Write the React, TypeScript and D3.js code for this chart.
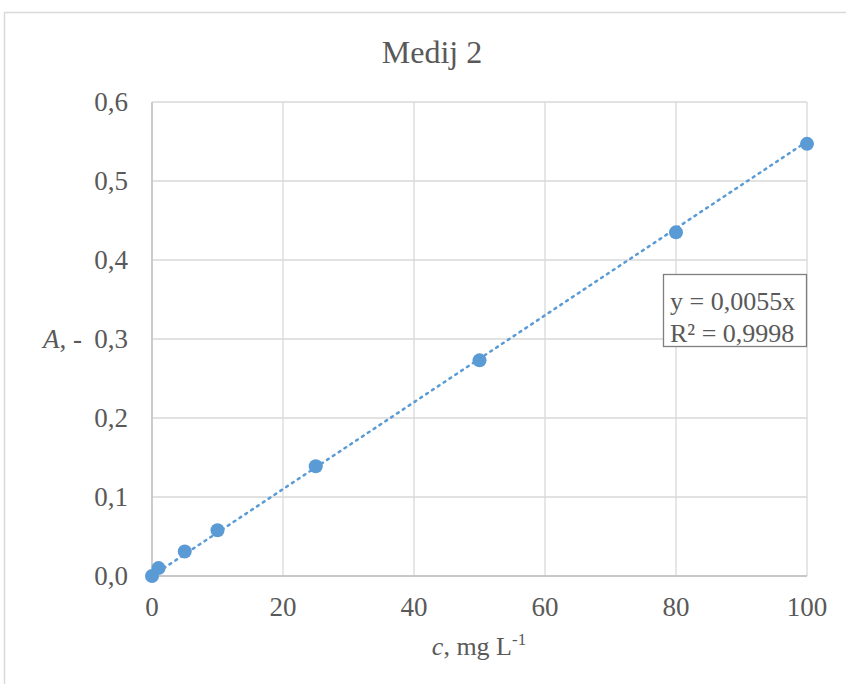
import React from "react";
import * as d3 from "d3";

const xValues = [0, 1, 5, 10, 25, 50, 80, 100];
const yValues = [0.0, 0.01, 0.031, 0.058, 0.139, 0.273, 0.435, 0.547];
const xTicks = [0, 20, 40, 60, 80, 100];
const yTicks = [0, 0.1, 0.2, 0.3, 0.4, 0.5, 0.6];
const slope = 0.0055;
const title = "Medij 2";
const eqLines = ["y = 0,0055x", "R² = 0,9998"];

const W = 846;
const H = 684;
const FONT = "'Liberation Serif', 'Times New Roman', serif";
const TXT = "#595959";
const BLUE = "#5B9BD5";

export default function App() {
  const x = d3.scaleLinear().domain([0, 100]).range([152, 807]);
  const y = d3.scaleLinear().domain([0, 0.6]).range([576, 102]);
  const fmt = (v: number) => v.toFixed(1).replace(".", ",");
  const line = d3
    .line<number>()
    .x((d) => x(d))
    .y((d) => y(d * slope));
  return (
    <svg
      width={W}
      height={H}
      style={{ position: "absolute", left: 0, top: 0, background: "#fff" }}
      fontFamily={FONT}
    >
      <rect x={4.5} y={12.5} width={W + 10} height={H + 10} fill="#fff" stroke="#d9d9d9" strokeWidth={1.5} />
      <text x={432} y={63} textAnchor="middle" fontSize={32} fill={TXT}>
        {title}
      </text>
      {yTicks.map((t) => (
        <line key={"gy" + t} x1={x(0)} x2={x(100)} y1={y(t)} y2={y(t)} stroke="#d9d9d9" strokeWidth={1.3} />
      ))}
      {xTicks.map((t) => (
        <line key={"gx" + t} x1={x(t)} x2={x(t)} y1={y(0)} y2={y(0.6)} stroke="#d9d9d9" strokeWidth={1.3} />
      ))}
      <line x1={x(0)} x2={x(100)} y1={y(0)} y2={y(0)} stroke="#bfbfbf" strokeWidth={1.3} />
      <line x1={x(0)} x2={x(0)} y1={y(0)} y2={y(0.6)} stroke="#bfbfbf" strokeWidth={1.3} />
      {yTicks.map((t) => (
        <text key={"ty" + t} x={128} y={y(t) + 9} textAnchor="end" fontSize={27} fill={TXT}>
          {fmt(t)}
        </text>
      ))}
      {xTicks.map((t) => (
        <text key={"tx" + t} x={x(t)} y={616} textAnchor="middle" fontSize={27} fill={TXT}>
          {t}
        </text>
      ))}
      <text x={43} y={y(0.3) + 9} fontSize={27} fill={TXT}>
        <tspan fontStyle="italic">A</tspan>, -
      </text>
      <text x={479} y={655} textAnchor="middle" fontSize={26} fill={TXT}>
        <tspan fontStyle="italic">c</tspan>, mg L<tspan fontSize={17} dy={-10}>-1</tspan>
      </text>
      <path d={line([0, 100]) || ""} fill="none" stroke={BLUE} strokeWidth={2.5} strokeDasharray="2,5" strokeLinecap="round" />
      {xValues.map((v, i) => (
        <circle key={"p" + i} cx={x(v)} cy={y(yValues[i])} r={7} fill={BLUE} />
      ))}
      <rect x={663.5} y={274.5} width={143} height={72} fill="#fff" stroke="#7f7f7f" strokeWidth={1.3} />
      {eqLines.map((s, i) => (
        <text key={"eq" + i} x={670} y={310 + i * 32} fontSize={26} fill={TXT}>
          {s}
        </text>
      ))}
    </svg>
  );
}
